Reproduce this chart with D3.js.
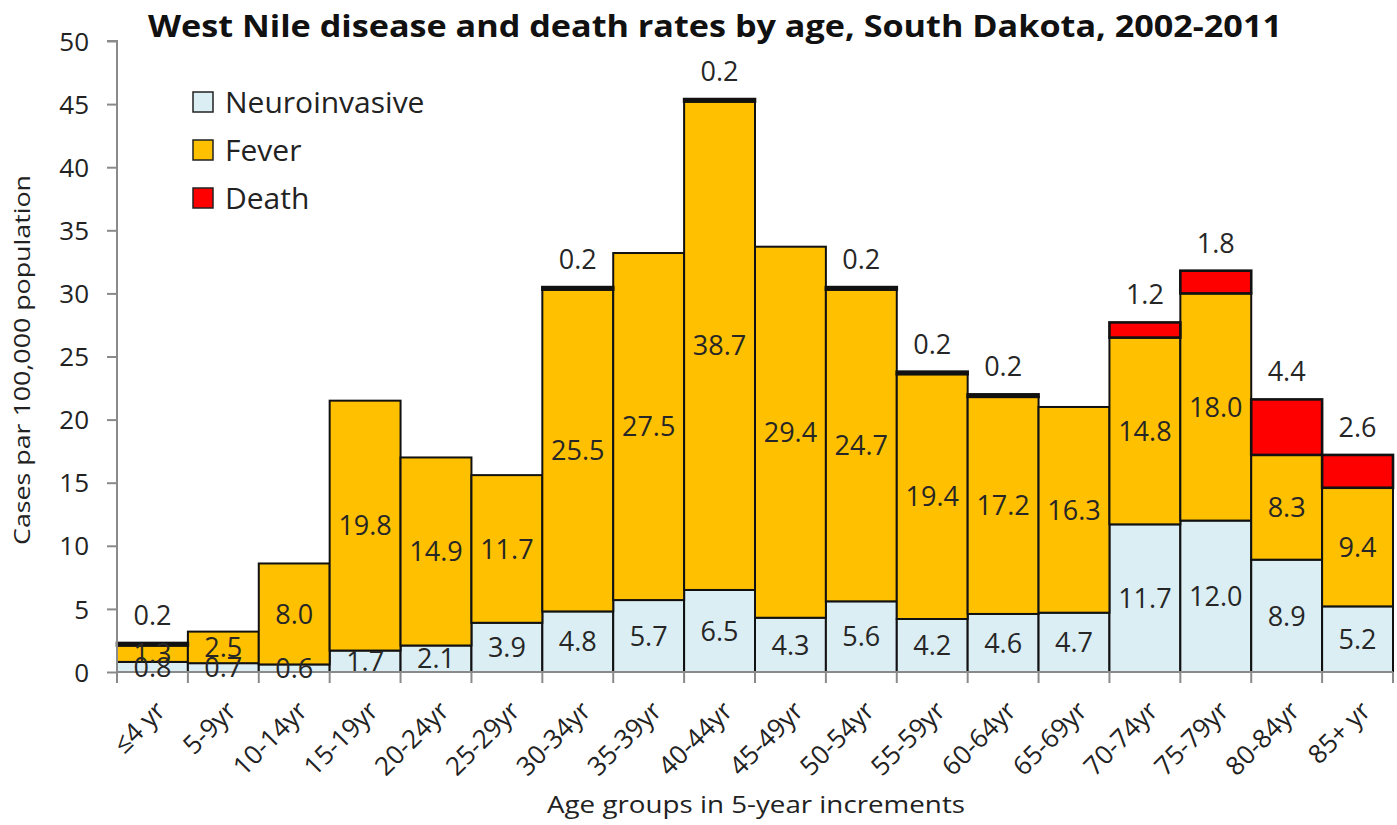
<!DOCTYPE html>
<html><head><meta charset="utf-8">
<script src="https://cdn.jsdelivr.net/npm/d3@7"></script>
<style>
html,body{margin:0;padding:0;background:#fff;}
svg{display:block;font-family:"Open Sans",sans-serif;}
</style></head>
<body><svg id="c" width="1397" height="825"></svg>
<script>
const categories = ["≤4 yr","5-9yr","10-14yr","15-19yr","20-24yr","25-29yr","30-34yr","35-39yr","40-44yr","45-49yr","50-54yr","55-59yr","60-64yr","65-69yr","70-74yr","75-79yr","80-84yr","85+ yr"];
const neuroinvasive = [0.8,0.7,0.6,1.7,2.1,3.9,4.8,5.7,6.5,4.3,5.6,4.2,4.6,4.7,11.7,12.0,8.9,5.2];
const fever = [1.3,2.5,8.0,19.8,14.9,11.7,25.5,27.5,38.7,29.4,24.7,19.4,17.2,16.3,14.8,18.0,8.3,9.4];
const death = [0.2,0,0,0,0,0,0.2,0,0.2,0,0.2,0.2,0.2,0,1.2,1.8,4.4,2.6];
const seriesNames = ["Neuroinvasive","Fever","Death"];
const yTicks = [0,5,10,15,20,25,30,35,40,45,50];

const colors = {Neuroinvasive:"#DBEEF4", Fever:"#FFC000", Death:"#FF0000"};
const svg = d3.select("#c");
const mLeft = 117, mRight = 1393, mTop = 41, mBottom = 672;

const rows = categories.map((c,i)=>({cat:c, Neuroinvasive:neuroinvasive[i], Fever:fever[i], Death:death[i]}));
const stack = d3.stack().keys(seriesNames)(rows);

const x = d3.scaleBand().domain(categories).range([mLeft,mRight]).padding(0);
const y = d3.scaleLinear().domain([0,50]).range([mBottom,mTop]);

// bars
const g = svg.append("g");
stack.forEach(layer=>{
  g.append("g").selectAll("rect").data(layer).join("rect")
    .attr("x", d=>x(d.data.cat))
    .attr("width", x.bandwidth())
    .attr("y", d=>y(d[1]))
    .attr("height", d=>Math.max(0, y(d[0])-y(d[1])))
    .attr("fill", colors[layer.key])
    .attr("stroke", "#111")
    .attr("stroke-width", d => (d[1]-d[0])>0 ? (layer.key==="Death" ? 2.6 : 2) : 0);
});

// axes
const axisColor = "#8a8a8a";
const yAxis = svg.append("g").attr("transform",`translate(${mLeft},0)`)
  .call(d3.axisLeft(y).tickValues(yTicks).tickSize(10).tickPadding(18).tickFormat(d3.format("d")));
yAxis.selectAll("path,line").attr("stroke",axisColor).attr("stroke-width",2);
yAxis.select(".domain").attr("d",`M-10,${mTop}H0V${mBottom}`);
yAxis.selectAll("text").attr("font-size",26).attr("fill","#222").attr("font-family","Open Sans").attr("dy","0.35em");

const xAxis = svg.append("g").attr("transform",`translate(0,${mBottom})`);
xAxis.append("line").attr("x1",mLeft).attr("x2",mRight).attr("y1",0).attr("y2",0).attr("stroke",axisColor).attr("stroke-width",2);
const edges = categories.map(c=>x(c)).concat([mRight]);
xAxis.selectAll("line.tk").data(edges).join("line").attr("class","tk")
  .attr("x1",d=>d).attr("x2",d=>d).attr("y1",0).attr("y2",11).attr("stroke",axisColor).attr("stroke-width",2);
xAxis.selectAll("text").data(categories).join("text")
  .attr("transform", d=>`translate(${x(d)+x.bandwidth()/2+8},${34}) rotate(-45)`)
  .attr("text-anchor","end").attr("dy","0.35em")
  .attr("font-size",26).attr("fill","#222").text(d=>d);

// data labels
const lbl = svg.append("g").attr("font-size",27).attr("fill","#262626").attr("text-anchor","middle");
stack.forEach(layer=>{
  layer.forEach(d=>{
    const v = d[1]-d[0];
    if (v<=0) return;
    const cx = x(d.data.cat)+x.bandwidth()/2;
    if (layer.key==="Death") {
      lbl.append("text").attr("x",cx).attr("y",y(d[1])-18).text(v.toFixed(1));
    } else {
      lbl.append("text").attr("x",cx).attr("y",(y(d[0])+y(d[1]))/2).attr("dy","0.36em").text(v.toFixed(1));
    }
  });
});

// title
svg.append("text").attr("x",715).attr("y",37).attr("text-anchor","middle")
  .attr("font-size",30).attr("font-weight","bold").attr("fill","#111")
  .attr("textLength",1134).attr("lengthAdjust","spacingAndGlyphs")
  .text("West Nile disease and death rates by age, South Dakota, 2002-2011");

// axis titles
svg.append("text").attr("transform","translate(30,360) rotate(-90)").attr("text-anchor","middle")
  .attr("font-size",22).attr("fill","#222").attr("textLength",370).attr("lengthAdjust","spacingAndGlyphs")
  .text("Cases par 100,000 population");
svg.append("text").attr("x",756).attr("y",813).attr("text-anchor","middle")
  .attr("font-size",23).attr("fill","#222").attr("textLength",418).attr("lengthAdjust","spacingAndGlyphs")
  .text("Age groups in 5-year increments");

// legend
const leg = svg.append("g");
seriesNames.forEach((s,i)=>{
  const cy = 102 + i*48;
  leg.append("rect").attr("x",193).attr("y",cy-10).attr("width",20).attr("height",20)
    .attr("fill",colors[s]).attr("stroke","#222").attr("stroke-width",1.5);
  leg.append("text").attr("x",225).attr("y",cy).attr("dy","0.36em").attr("font-size",30).attr("fill","#222").text(s);
});
</script></body></html>
